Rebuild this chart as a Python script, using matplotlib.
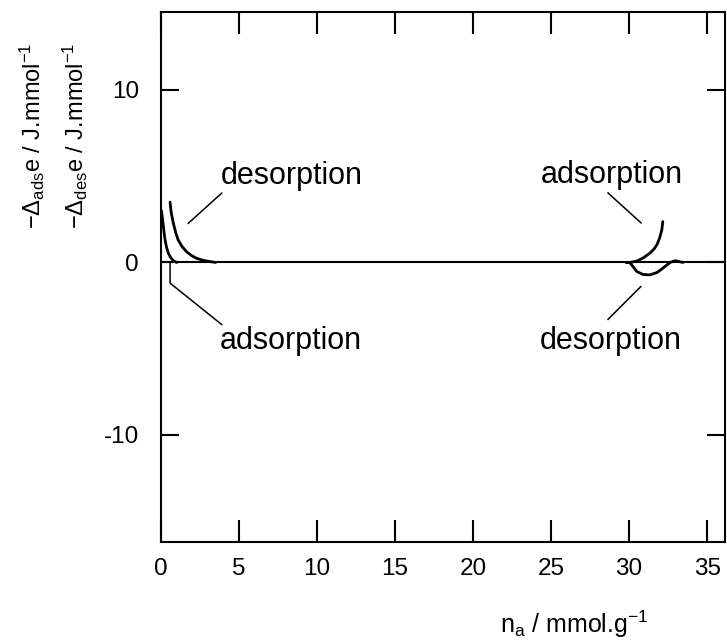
import matplotlib
matplotlib.use("Agg")
import matplotlib.pyplot as plt

plt.rcParams["font.family"] = ["Liberation Sans", "DejaVu Sans"]
plt.rcParams["mathtext.fontset"] = "custom"
plt.rcParams["mathtext.rm"] = "Liberation Sans"
plt.rcParams["mathtext.it"] = "Liberation Sans:italic"
plt.rcParams["axes.unicode_minus"] = False

# ---- data ----
# low loading branch
ads_lo_x = [0.03, 0.1, 0.18, 0.26, 0.36, 0.47, 0.62, 0.79, 1.0]
ads_lo_y = [3.0, 2.5, 1.85, 1.3, 0.85, 0.53, 0.28, 0.1, 0.0]
des_lo_x = [0.58, 0.65, 0.79, 0.95, 1.1, 1.35, 1.64, 1.95, 2.28, 2.7, 3.14, 3.5]
des_lo_y = [3.5, 2.9, 2.27, 1.7, 1.3, 0.92, 0.62, 0.4, 0.24, 0.12, 0.05, 0.0]

# high loading branch
ads_hi_x = [30.06, 30.5, 30.9, 31.35, 31.6, 31.8, 31.97, 32.1, 32.16]
ads_hi_y = [0.0, 0.08, 0.26, 0.55, 0.78, 1.05, 1.45, 1.9, 2.37]
des_hi_x = [29.8, 30.06, 30.5, 30.9, 31.35, 31.8, 32.18, 32.63, 32.95, 33.46]
des_hi_y = [0.0, -0.02, -0.53, -0.7, -0.72, -0.58, -0.32, 0.0, 0.1, 0.0]

# leader lines for the labels
lead_des_lo = ([1.75, 3.89], [2.27, 4.02])
lead_ads_lo = ([0.58, 0.58, 3.89], [0.0, -1.2, -3.6])
lead_ads_hi = ([28.65, 30.77], [4.03, 2.29])
lead_des_hi = ([28.65, 30.75], [-3.3, -1.4])

labels = [
    ("desorption", 8.38, 5.0),
    ("adsorption", 8.33, -4.55),
    ("adsorption", 28.9, 5.09),
    ("desorption", 28.85, -4.55),
]

xticks = [0, 5, 10, 15, 20, 25, 30, 35]
yticks = [-10, 0, 10]

fig = plt.figure(figsize=(7.27, 6.44), dpi=100)
ax = fig.add_axes([0.2215, 0.158, 0.7758, 0.8234])

ax.axhline(0, color="black", lw=1.5)
for xs, ys in [(ads_lo_x, ads_lo_y), (des_lo_x, des_lo_y),
               (ads_hi_x, ads_hi_y), (des_hi_x, des_hi_y)]:
    ax.plot(xs, ys, color="black", lw=2.0, solid_capstyle="round",
            solid_joinstyle="round")

for xs, ys in [lead_des_lo, lead_ads_lo, lead_ads_hi, lead_des_hi]:
    ax.plot(xs, ys, color="black", lw=1.1)

for txt, x, y in labels:
    ax.text(x, y, txt, fontsize=22, ha="center", va="center")

ax.set_xlim(0, 36.15)
ax.set_ylim(-16.22, 14.52)
ax.set_xticks(xticks)
ax.set_yticks(yticks)
ax.tick_params(direction="in", width=1.5, labelsize=17.5, top=True, right=True)
ax.tick_params(axis="x", length=16, pad=11)
ax.tick_params(axis="y", length=13, pad=16)
for s in ax.spines.values():
    s.set_linewidth(1.5)

fig.text(0.044, 0.933, r"$\mathregular{-\Delta_{ads}}$e / J.mmol$^{\mathregular{-1}}$",
         rotation=90, ha="center", va="top", fontsize=17)
fig.text(0.104, 0.933, r"$\mathregular{-\Delta_{des}}$e / J.mmol$^{\mathregular{-1}}$",
         rotation=90, ha="center", va="top", fontsize=17)
fig.text(0.79, 0.03, r"n$_{\mathregular{a}}$ / mmol.g$^{\mathregular{-1}}$",
         ha="center", va="center", fontsize=18)

fig.savefig("out.png", dpi=100)
